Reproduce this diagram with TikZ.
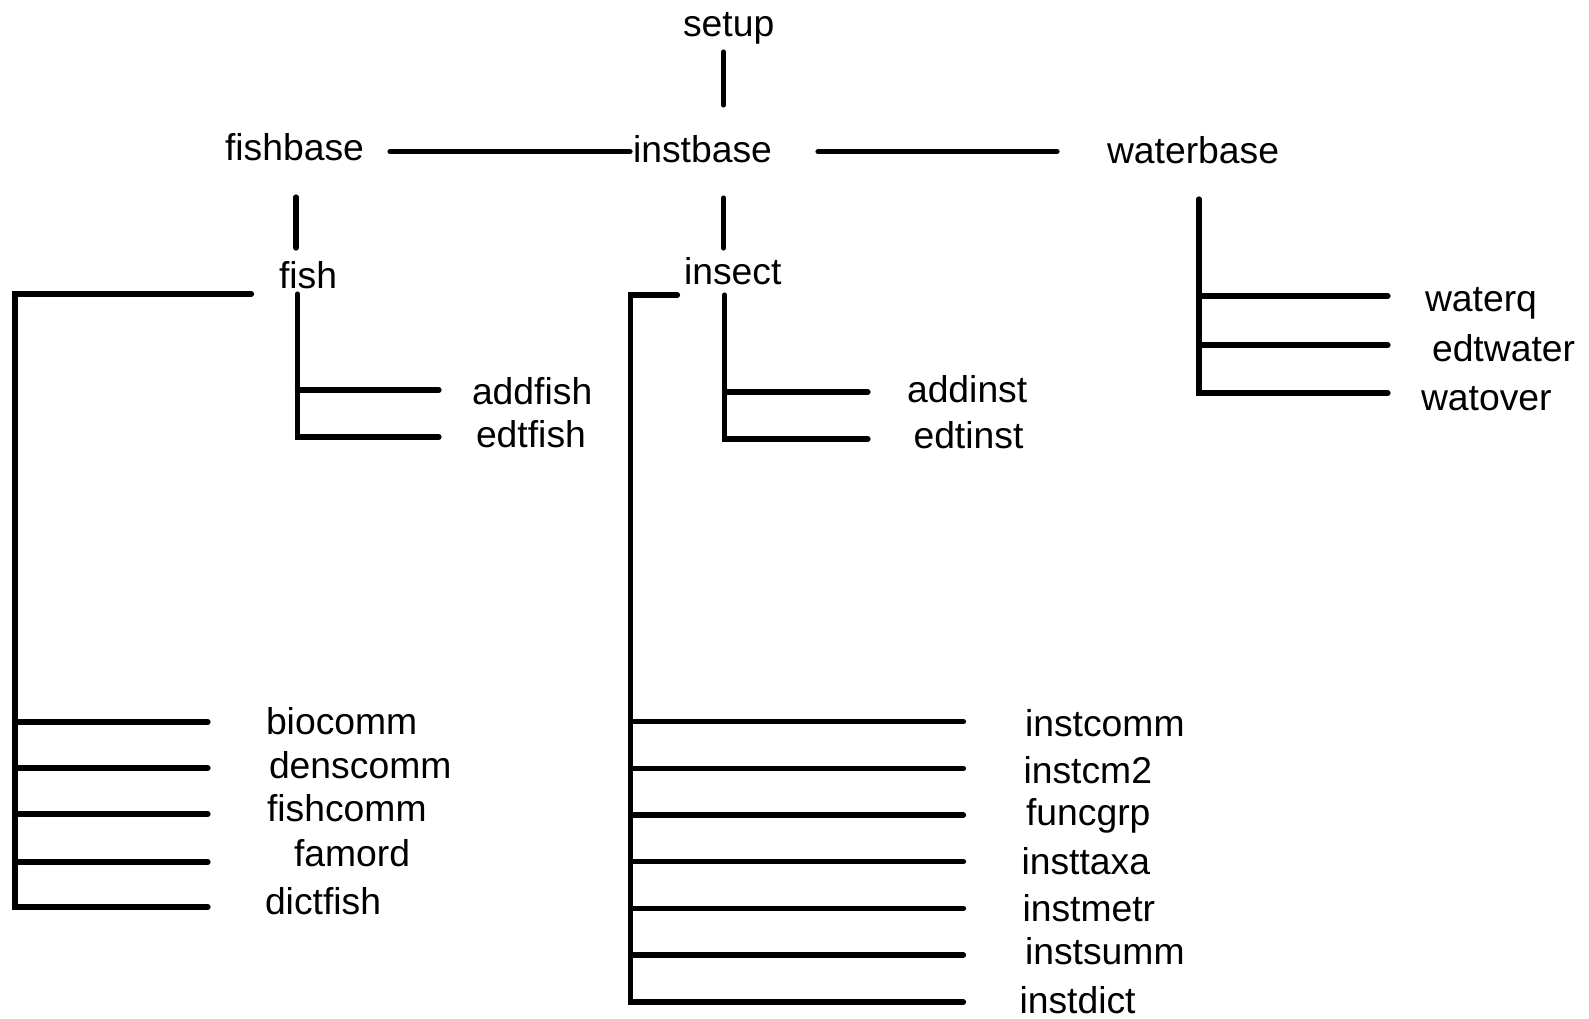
\documentclass[tikz,border=0pt]{standalone}
\usepackage{fontspec}
\setmainfont{Liberation Sans}
\begin{document}
\begin{tikzpicture}[x=1pt,y=-1pt,
  lbl/.style={anchor=base west,inner sep=0pt,outer sep=0pt,font=\fontsize{37.3}{44}\selectfont},
  tree/.style={line width=5.2pt,line cap=round,line join=miter}]
\useasboundingbox (0,0) rectangle (1589,1019);
% labels
\node[lbl] (setup) at (683,37) {setup};
\node[lbl] (fishbase) at (225,160.5) {fishbase};
\node[lbl] (instbase) at (633,163) {instbase};
\node[lbl] (waterbase) at (1107,163.5) {waterbase};
\node[lbl] (fish) at (279,288.5) {fish};
\node[lbl] (insect) at (684,284.5) {insect};
\node[lbl] (addfish) at (472,404.5) {addfish};
\node[lbl] (edtfish) at (476,447.5) {edtfish};
\node[lbl] (addinst) at (907,402.5) {addinst};
\node[lbl] (edtinst) at (913.5,448.5) {edtinst};
\node[lbl] (waterq) at (1425,311) {waterq};
\node[lbl] (edtwater) at (1432,361.5) {edtwater};
\node[lbl] (watover) at (1421,410) {watover};
\node[lbl] (biocomm) at (266,734) {biocomm};
\node[lbl] (denscomm) at (269,778.5) {denscomm};
\node[lbl] (fishcomm) at (267,821) {fishcomm};
\node[lbl] (famord) at (294,866) {famord};
\node[lbl] (dictfish) at (265,914) {dictfish};
\node[lbl] (instcomm) at (1025,736) {instcomm};
\node[lbl] (instcmtwo) at (1023.5,783) {instcm2};
\node[lbl] (funcgrp) at (1026,825) {funcgrp};
\node[lbl] (insttaxa) at (1021.5,874) {insttaxa};
\node[lbl] (instmetr) at (1022.5,921.5) {instmetr};
\node[lbl] (instsumm) at (1025,964.5) {instsumm};
\node[lbl] (instdict) at (1019.5,1013) {instdict};
% coordinates
\coordinate (s1) at (723.5,52);  \coordinate (s2) at (723.5,105);
\coordinate (h1) at (390,151.7); \coordinate (h2) at (630,151.7);
\coordinate (h3) at (818,151.7); \coordinate (h4) at (1057,151.7);
\coordinate (fb1) at (296,197);  \coordinate (fb2) at (296,248);
\coordinate (ib1) at (723.5,198); \coordinate (ib2) at (723.5,248);
% fish bracket
\coordinate (fA) at (251.5,294); \coordinate (fB) at (15,294);
\coordinate (fC) at (15,907);    \coordinate (fD) at (208,907);
\coordinate (fL1) at (15,722);   \coordinate (fR1) at (208,722);
\coordinate (fL2) at (15,768);   \coordinate (fR2) at (208,768);
\coordinate (fL3) at (15,814);   \coordinate (fR3) at (208,814);
\coordinate (fL4) at (15,862);   \coordinate (fR4) at (208,862);
% fish sub
\coordinate (fsA) at (297.5,294); \coordinate (fsB) at (297.5,437); \coordinate (fsC) at (439,437);
\coordinate (fsL) at (297.5,390); \coordinate (fsR) at (439,390);
% insect bracket
\coordinate (iA) at (677.5,295); \coordinate (iB) at (630.5,295);
\coordinate (iC) at (630.5,1002); \coordinate (iD) at (963.5,1002);
\coordinate (iL1) at (630.5,721.7); \coordinate (iR1) at (963.5,721.7);
\coordinate (iL2) at (630.5,768.3); \coordinate (iR2) at (963.5,768.3);
\coordinate (iL3) at (630.5,815);   \coordinate (iR3) at (963.5,815);
\coordinate (iL4) at (630.5,861.7); \coordinate (iR4) at (963.5,861.7);
\coordinate (iL5) at (630.5,908.3); \coordinate (iR5) at (963.5,908.3);
\coordinate (iL6) at (630.5,955);   \coordinate (iR6) at (963.5,955);
% insect sub
\coordinate (isA) at (724.5,295); \coordinate (isB) at (724.5,439); \coordinate (isC) at (868,439);
\coordinate (isL) at (724.5,392); \coordinate (isR) at (868,392);
% water
\coordinate (wA) at (1199,199); \coordinate (wB) at (1199,393); \coordinate (wC) at (1388,393);
\coordinate (wL1) at (1199,296); \coordinate (wR1) at (1388,296);
\coordinate (wL2) at (1199,345); \coordinate (wR2) at (1388,345);
% lines
\draw[tree] (s1) -- (s2);
\draw[tree] (h1) -- (h2);
\draw[tree] (h3) -- (h4);
\draw[tree] (fb1) -- (fb2);
\draw[tree] (ib1) -- (ib2);
\draw[tree] (fA) -- (fB) -- (fC) -- (fD);
\foreach \i in {1,...,4} {\draw[tree] (fL\i) -- (fR\i);}
\draw[tree] (fsA) -- (fsB) -- (fsC);
\draw[tree] (fsL) -- (fsR);
\draw[tree] (iA) -- (iB) -- (iC) -- (iD);
\foreach \i in {1,...,6} {\draw[tree] (iL\i) -- (iR\i);}
\draw[tree] (isA) -- (isB) -- (isC);
\draw[tree] (isL) -- (isR);
\draw[tree] (wA) -- (wB) -- (wC);
\draw[tree] (wL1) -- (wR1);
\draw[tree] (wL2) -- (wR2);
\end{tikzpicture}
\end{document}
